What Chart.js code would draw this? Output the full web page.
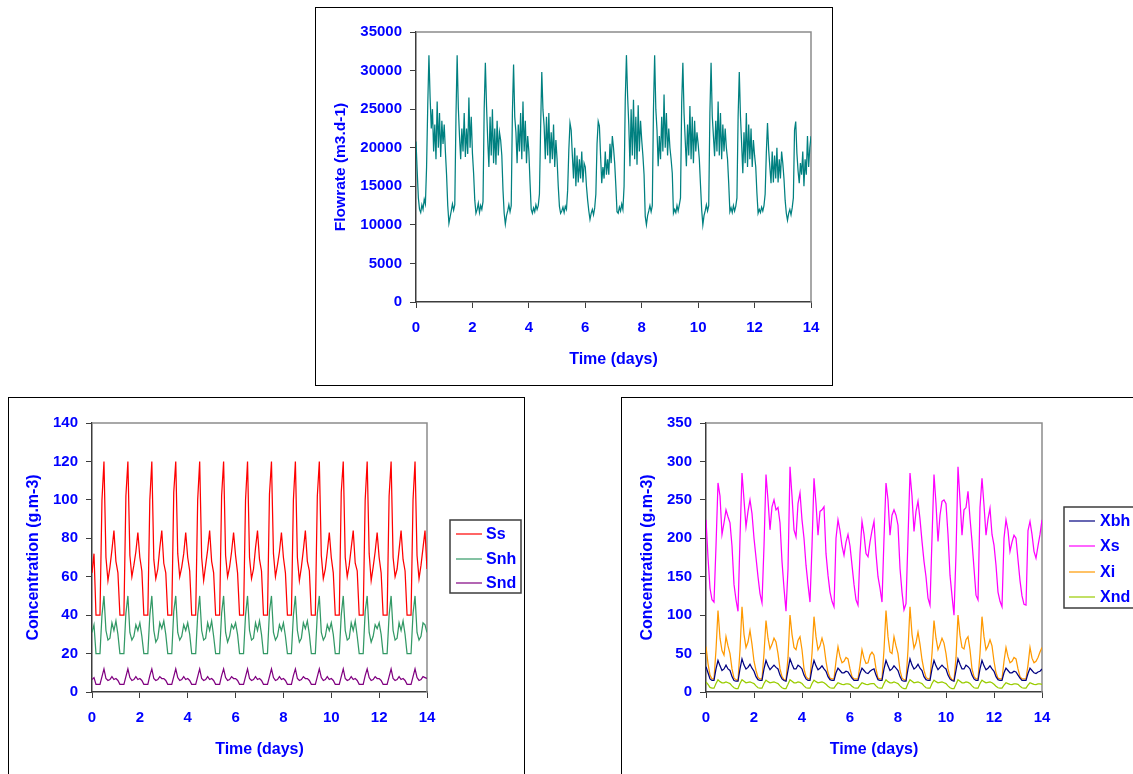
<!DOCTYPE html>
<html>
<head>
<meta charset="utf-8">
<title>Influent flowrate and concentrations</title>
<script src="https://cdn.jsdelivr.net/npm/chart.js@4.4.1/dist/chart.umd.min.js"></script>
<style>
  html, body { margin: 0; padding: 0; background: #fff; }
  body { position: relative; width: 1133px; height: 774px; overflow: hidden; }
  .frame { position: absolute; border: 1px solid #000; box-sizing: border-box; }
  canvas { position: absolute; }
</style>
</head>
<body>
<div class="frame" style="left:315px;top:7px;width:518px;height:379px"></div>
<div class="frame" style="left:8px;top:397px;width:517px;height:420px"></div>
<div class="frame" style="left:621px;top:397px;width:600px;height:420px"></div>

<canvas id="flow-chart" width="515" height="376" style="left:316px;top:8px"></canvas>
<canvas id="s-chart" width="514" height="376" style="left:9px;top:398px"></canvas>
<canvas id="x-chart" width="511" height="376" style="left:622px;top:398px"></canvas>

<script>
// =========================================================================
// DATA
// flowrate: one value per hour (24 per row = 1 day), last value = day 14
// concentrations: one value every 2 hours (12 per row = 1 day)
// =========================================================================

var FLOW_STEP_DAYS = 1 / 24;
var CONC_STEP_DAYS = 1 / 12;

var dayTicks = [0, 2, 4, 6, 8, 10, 12, 14];
var flowTicks = [0, 5000, 10000, 15000, 20000, 25000, 30000, 35000];
var sTicks = [0, 20, 40, 60, 80, 100, 120, 140];
var xTicks = [0, 50, 100, 150, 200, 250, 300, 350];

var sLabels = ['Ss', 'Snh', 'Snd'];
var xLabels = ['Xbh', 'Xs', 'Xi', 'Xnd'];

var flowrate = [
  20800, 17000, 13500, 12000, 11600, 12600, 12000, 13300, 12700, 17500, 25500, 32000, 26500, 22500, 25000, 19500, 23000, 18500, 26000, 20000, 24500, 18800, 23500, 20500,
  23000, 19500, 16500, 12500, 10200, 11000, 11800, 12700, 11900, 12600, 24000, 32000, 25200, 21500, 18500, 22500, 19500, 24500, 18800, 22500, 19200, 26500, 20000, 24000,
  19300, 16700, 13200, 11500, 12000, 12800, 11600, 12500, 12000, 13000, 25000, 31000, 25400, 21000, 17500, 24000, 19000, 25000, 18000, 22500, 17800, 23500, 19000, 22000,
  21000, 19000, 14500, 11500, 10100, 11200, 11800, 12600, 11700, 12500, 24500, 30800, 24000, 22000, 18000, 23000, 19500, 24500, 18500, 26000, 19500, 23500, 18000, 21500,
  19500, 15500, 12000, 11500, 12200, 11700, 12600, 12000, 12500, 14000, 22500, 29800, 24900, 22800, 18500, 24000, 19000, 24500, 18000, 22000, 18500, 23000, 17500, 21000,
  18500, 15000, 12400, 11500, 11800, 12300, 11600, 12400, 12000, 14500, 19700, 23200, 22300, 19000, 16000, 20000, 15000, 19000, 15500, 18500, 16000, 19500, 15500, 18000,
  17500, 15000, 13200, 11800, 10700, 11500, 12000, 11300, 12200, 14000, 20500, 23400, 22800, 19000, 15400, 17500, 16000, 19500, 16500, 18500, 16500, 20500, 18000, 21500,
  20000, 18000, 15000, 11700, 11500, 12300, 11800, 12700, 12000, 15000, 26200, 32000, 26700, 23000, 17600, 25000, 19000, 26200, 18500, 24000, 17800, 25500, 19500, 23500,
  21000, 19000, 16500, 11100, 10000, 11200, 11800, 12500, 11700, 12500, 25000, 32000, 25000, 22300, 17600, 21500, 18500, 24000, 19500, 26900, 20000, 24500, 19000, 22500,
  20000, 18500, 16700, 11500, 12000, 11600, 12500, 11800, 12600, 13500, 25800, 31000, 24500, 21000, 17600, 23000, 19000, 25400, 18500, 24000, 18000, 23500, 19500, 22000,
  20500, 18500, 15200, 12000, 10000, 11200, 11800, 12600, 11800, 12500, 24500, 31000, 24100, 21500, 18900, 23500, 19500, 26000, 19000, 24500, 18500, 23000, 19500, 22500,
  20000, 18500, 15400, 11700, 12200, 11600, 12500, 11800, 12400, 13500, 24000, 29800, 24100, 20500, 16700, 22000, 18000, 24500, 17500, 23000, 18500, 22500, 17500, 21000,
  19000, 17500, 14100, 11500, 12000, 11600, 12300, 11800, 12500, 14000, 19300, 23200, 19700, 17500, 15400, 19500, 15500, 19000, 16000, 20000, 15500, 18500, 16000, 19500,
  18000, 16000, 13200, 11500, 10600, 11500, 12000, 11300, 12200, 13500, 22300, 23400, 19300, 17000, 15400, 18000, 16500, 19500, 15000, 18500, 16500, 21500, 17500, 20000,
  21500
];

var ss = [
  62, 72, 40, 40, 40, 100, 120, 70, 58, 65, 74, 84,
  68, 62, 40, 40, 40, 102, 120, 71, 60, 66, 73, 83,
  70, 63, 40, 40, 40, 100, 120, 69, 59, 64, 75, 84,
  67, 62, 40, 40, 40, 104, 120, 72, 60, 65, 72, 83,
  70, 63, 40, 40, 40, 100, 120, 70, 58, 66, 74, 84,
  68, 62, 40, 40, 40, 102, 120, 71, 60, 65, 73, 83,
  71, 62, 40, 40, 40, 100, 120, 70, 59, 64, 75, 84,
  69, 63, 40, 40, 40, 103, 120, 72, 60, 66, 73, 83,
  70, 62, 40, 40, 40, 100, 120, 70, 58, 65, 74, 84,
  68, 63, 40, 40, 40, 102, 120, 71, 59, 64, 73, 83,
  70, 62, 40, 40, 40, 104, 120, 70, 60, 66, 75, 84,
  67, 63, 40, 40, 40, 100, 120, 72, 58, 65, 73, 83,
  70, 62, 40, 40, 40, 102, 120, 70, 60, 64, 74, 84,
  69, 63, 40, 40, 40, 100, 120, 71, 59, 66, 75, 84,
  64
];

var snh = [
  31, 35, 20, 20, 20, 40, 50, 32, 27, 28, 36, 32,
  37, 30, 20, 20, 20, 41, 50, 31, 27, 29, 35, 32,
  36, 29, 20, 20, 20, 40, 50, 32, 26, 28, 36, 33,
  37, 30, 20, 20, 20, 42, 50, 31, 27, 29, 35, 32,
  36, 30, 20, 20, 20, 40, 50, 32, 27, 28, 36, 32,
  37, 29, 20, 20, 20, 41, 50, 31, 26, 29, 35, 33,
  36, 30, 20, 20, 20, 40, 50, 32, 27, 28, 36, 32,
  37, 30, 20, 20, 20, 42, 50, 31, 27, 29, 35, 32,
  36, 29, 20, 20, 20, 40, 50, 32, 26, 28, 36, 33,
  37, 30, 20, 20, 20, 41, 50, 31, 27, 29, 35, 32,
  36, 30, 20, 20, 20, 40, 50, 32, 27, 28, 36, 32,
  37, 29, 20, 20, 20, 42, 50, 31, 26, 29, 35, 33,
  36, 30, 20, 20, 20, 40, 50, 32, 27, 28, 36, 32,
  37, 30, 20, 20, 20, 41, 50, 31, 27, 29, 36, 35,
  31
];

var snd = [
  6.5, 7.5, 4, 4, 4, 8, 12, 7, 6, 6.5, 8, 6.5,
  7, 6, 4, 4, 4, 8, 12, 7.5, 6, 6.5, 8, 6.5,
  7, 6, 4, 4, 4, 8.5, 12, 7, 6, 6.5, 8, 7,
  7, 6, 4, 4, 4, 8, 12, 7.5, 6, 6.5, 8, 6.5,
  7, 6, 4, 4, 4, 8, 12, 7, 6, 6.5, 8, 6.5,
  7, 6, 4, 4, 4, 8.5, 12, 7.5, 6, 6.5, 8, 7,
  7, 6, 4, 4, 4, 8, 12, 7, 6, 6.5, 8, 6.5,
  7, 6, 4, 4, 4, 8, 12, 7.5, 6, 6.5, 8, 6.5,
  7, 6, 4, 4, 4, 8.5, 12, 7, 6, 6.5, 8, 7,
  7, 6, 4, 4, 4, 8, 12, 7.5, 6, 6.5, 8, 6.5,
  7, 6, 4, 4, 4, 8, 12, 7, 6, 6.5, 8, 6.5,
  7, 6, 4, 4, 4, 8.5, 12, 7.5, 6, 6.5, 8, 7,
  7, 6, 4, 4, 4, 8, 12, 7, 6, 6.5, 8, 6.5,
  7, 6, 4, 4, 4, 8, 12, 7.5, 6, 6.5, 8, 7.5,
  7
];

var xbh = [
  33, 25, 17, 15, 15, 30, 41, 34, 28, 30, 35, 30,
  28, 20, 15, 14, 14, 30, 43, 35, 30, 32, 36, 31,
  27, 20, 16, 15, 15, 30, 41, 34, 29, 32, 35, 32,
  30, 22, 17, 15, 14, 28, 43, 36, 30, 30, 35, 33,
  30, 22, 17, 15, 15, 30, 41, 34, 29, 31, 34, 30,
  27, 20, 16, 15, 15, 25, 31, 28, 25, 25, 27, 26,
  22, 18, 15, 15, 15, 24, 31, 28, 25, 24, 27, 29,
  30, 22, 16, 15, 15, 30, 41, 34, 28, 30, 34, 31,
  28, 20, 15, 14, 14, 30, 43, 35, 30, 32, 36, 31,
  28, 20, 16, 15, 15, 30, 41, 34, 29, 32, 35, 32,
  30, 22, 17, 15, 14, 28, 43, 36, 30, 30, 35, 33,
  30, 22, 17, 15, 15, 30, 41, 34, 29, 31, 34, 30,
  27, 20, 16, 15, 15, 25, 31, 28, 25, 25, 27, 26,
  22, 18, 15, 15, 15, 24, 31, 28, 25, 24, 26, 27,
  30
];

var xs = [
  224, 175, 135, 120, 117, 190, 272, 255, 205, 220, 237, 228,
  220, 190, 140, 120, 105, 200, 285, 250, 215, 235, 250, 232,
  200, 175, 150, 128, 116, 190, 283, 250, 211, 241, 250, 237,
  240, 220, 170, 135, 105, 160, 293, 255, 211, 202, 245, 259,
  224, 200, 165, 140, 117, 190, 278, 245, 204, 235, 237, 241,
  180, 152, 130, 118, 111, 200, 224, 210, 190, 178, 195, 205,
  190, 165, 140, 120, 113, 180, 222, 205, 180, 176, 195, 210,
  222, 180, 150, 135, 117, 200, 272, 250, 204, 230, 237, 230,
  217, 161, 130, 107, 115, 200, 285, 255, 209, 235, 248, 225,
  196, 170, 150, 122, 113, 200, 283, 245, 196, 230, 248, 250,
  245, 205, 152, 125, 100, 180, 293, 250, 204, 237, 240, 261,
  226, 196, 161, 126, 120, 240, 278, 243, 204, 225, 239, 205,
  191, 165, 130, 118, 111, 200, 224, 210, 183, 195, 204, 200,
  172, 145, 125, 114, 113, 210, 222, 205, 183, 174, 190, 205,
  224
];

var xi = [
  59, 37, 22, 17, 17, 55, 106, 70, 54, 48, 72, 60,
  50, 30, 18, 16, 15, 55, 111, 75, 58, 65, 80, 62,
  40, 28, 19, 17, 17, 50, 93, 70, 56, 62, 70, 65,
  50, 30, 20, 16, 15, 45, 100, 75, 58, 55, 67, 72,
  55, 30, 20, 17, 17, 50, 98, 72, 55, 60, 70, 60,
  40, 25, 18, 17, 17, 40, 59, 46, 38, 40, 45, 43,
  30, 20, 17, 17, 17, 35, 55, 44, 37, 38, 48, 52,
  48, 30, 18, 17, 17, 55, 106, 72, 52, 50, 72, 60,
  50, 28, 18, 16, 15, 55, 111, 75, 57, 64, 78, 62,
  42, 28, 19, 17, 17, 50, 93, 70, 55, 62, 70, 64,
  50, 30, 20, 16, 15, 45, 100, 74, 58, 56, 68, 72,
  55, 30, 20, 17, 17, 50, 98, 72, 55, 60, 68, 60,
  40, 25, 18, 17, 17, 40, 58, 46, 38, 40, 45, 43,
  30, 20, 17, 17, 17, 35, 58, 44, 38, 40, 45, 52,
  58
];

var xnd = [
  13, 10, 6, 5, 5, 11, 16, 13.5, 12, 12, 13, 12,
  11, 8, 5.5, 4.5, 4.5, 11, 16, 14, 12, 12.5, 13, 12,
  11, 8, 5.5, 5, 5, 11, 15.5, 13.5, 12, 12.5, 13, 12,
  11, 8, 5.5, 4.5, 4.5, 10, 16, 14, 12, 12, 13, 12.5,
  11, 8, 5.5, 5, 5, 11, 15.5, 13.5, 12, 12.5, 13, 12,
  10, 7.5, 5.5, 5, 5, 9, 12, 11, 10, 9.5, 10.5, 10.5,
  10, 7.5, 5.5, 5, 5, 9, 12, 11, 10, 9.5, 10.5, 11,
  11, 8, 5.5, 5, 5, 11, 16, 13.5, 12, 12, 13, 12,
  11, 8, 5.5, 4.5, 4.5, 11, 16, 14, 12, 12.5, 13, 12,
  11, 8, 5.5, 5, 5, 11, 15.5, 13.5, 12, 12.5, 13, 12,
  11, 8, 5.5, 4.5, 4.5, 10, 16, 14, 12, 12, 13, 12.5,
  11, 8, 5.5, 5, 5, 11, 15.5, 13.5, 12, 12.5, 13, 12,
  10, 7.5, 5.5, 5, 5, 9, 12, 11, 10, 9.5, 10.5, 10.5,
  10, 7.5, 5.5, 5, 5, 9, 12, 11, 10, 9.5, 10.5, 10.5,
  10
];

(function () {
  'use strict';

  // --- Palette (spreadsheet-style) ---
  var BLUE = '#0000ff';
  var AXIS = '#3c3c3c';
  var FRAME = '#8c8c8c';
  var FONT = '"Liberation Sans", Arial, sans-serif';

  function points(values, step) {
    return values.map(function (v, i) { return { x: i * step, y: v }; });
  }

  function line(label, values, step, color) {
    return {
      label: label,
      data: points(values, step),
      borderColor: color,
      backgroundColor: color,
      borderWidth: 1.25,
      pointRadius: 0,
      tension: 0,
      fill: false
    };
  }

  // Plot area: grey top/right edges
  var plotBox = {
    id: 'plotBox',
    beforeDatasetsDraw: function (chart) {
      var a = chart.chartArea;
      var ctx = chart.ctx;
      ctx.save();
      ctx.strokeStyle = FRAME;
      ctx.lineWidth = 1.5;
      ctx.beginPath();
      ctx.moveTo(a.left, a.top);
      ctx.lineTo(a.right, a.top);
      ctx.lineTo(a.right, a.bottom);
      ctx.stroke();
      ctx.restore();
    }
  };

  // Boxed legend on the right: line sample + bold label
  var boxLegend = {
    id: 'boxLegend',
    afterDraw: function (chart, args, opts) {
      if (!opts || !opts.rows) return;
      var ctx = chart.ctx;
      ctx.save();
      ctx.strokeStyle = AXIS;
      ctx.lineWidth = 1.5;
      ctx.strokeRect(opts.x, opts.y, opts.w, opts.h);
      ctx.font = 'bold 16px ' + FONT;
      ctx.textBaseline = 'middle';
      ctx.textAlign = 'left';
      chart.data.datasets.forEach(function (ds, i) {
        var y = opts.rows[i];
        ctx.strokeStyle = ds.borderColor;
        ctx.lineWidth = 1.2;
        ctx.beginPath();
        ctx.moveTo(opts.lineX, y);
        ctx.lineTo(opts.lineX + 26, y);
        ctx.stroke();
        ctx.fillStyle = BLUE;
        ctx.fillText(ds.label, opts.textX, y + 1);
      });
      ctx.restore();
    }
  };

  function fixedTicks(list) {
    return function (scale) {
      scale.ticks = list.map(function (v) { return { value: v }; });
    };
  }

  function plain(value) { return String(value); }

  function makeOptions(cfg) {
    return {
      responsive: false,
      animation: false,
      events: [],
      layout: { padding: { top: cfg.top, right: cfg.right, left: 0, bottom: 0 } },
      plugins: {
        legend: { display: false },
        tooltip: { enabled: false },
        boxLegend: cfg.legend || false
      },
      scales: {
        x: {
          type: 'linear',
          min: 0,
          max: 14,
          afterBuildTicks: fixedTicks(dayTicks),
          afterFit: function (s) { s.height = 82; },
          ticks: {
            color: BLUE,
            padding: 11,
            maxRotation: 0,
            callback: plain,
            font: { family: FONT, size: 15, weight: 'bold' }
          },
          grid: { drawOnChartArea: false, drawTicks: true, tickLength: 6, color: AXIS },
          border: { color: AXIS, width: 1.5 },
          title: {
            display: true,
            text: 'Time (days)',
            color: BLUE,
            padding: { top: 0, bottom: 15 },
            font: { family: FONT, size: 16, weight: 'bold' }
          }
        },
        y: {
          min: 0,
          max: cfg.yMax,
          afterBuildTicks: fixedTicks(cfg.yTicks),
          afterFit: function (s) { s.width = cfg.left; },
          ticks: {
            color: BLUE,
            padding: 8,
            callback: plain,
            font: { family: FONT, size: 15, weight: 'bold' }
          },
          grid: { drawOnChartArea: false, drawTicks: true, tickLength: 6, color: AXIS },
          border: { color: AXIS, width: 1.5 },
          title: {
            display: true,
            text: cfg.yTitle,
            color: BLUE,
            padding: { top: cfg.titlePad, bottom: 0 },
            font: { family: FONT, size: cfg.titleSize, weight: 'bold' }
          }
        }
      }
    };
  }

  // =========================================================================
  // FLOWRATE
  // =========================================================================
  new Chart(document.getElementById('flow-chart'), {
    type: 'line',
    data: { datasets: [line('Flowrate', flowrate, FLOW_STEP_DAYS, '#008080')] },
    options: makeOptions({
      top: 24, right: 20, left: 100, titlePad: 15, titleSize: 15.5,
      yMax: 35000, yTicks: flowTicks, yTitle: 'Flowrate (m3.d-1)'
    }),
    plugins: [plotBox]
  });

  // =========================================================================
  // SOLUBLE COMPONENTS
  // =========================================================================
  new Chart(document.getElementById('s-chart'), {
    type: 'line',
    data: {
      datasets: [
        line(sLabels[0], ss, CONC_STEP_DAYS, '#ff0000'),
        line(sLabels[1], snh, CONC_STEP_DAYS, '#339966'),
        line(sLabels[2], snd, CONC_STEP_DAYS, '#800080')
      ]
    },
    options: makeOptions({
      top: 25, right: 96, left: 83, titlePad: 15, titleSize: 16,
      yMax: 140, yTicks: sTicks, yTitle: 'Concentration (g.m-3)',
      legend: { x: 441, y: 122, w: 71, h: 73, lineX: 447, textX: 477, rows: [136, 161, 185] }
    }),
    plugins: [plotBox, boxLegend]
  });

  // =========================================================================
  // PARTICULATE COMPONENTS
  // =========================================================================
  new Chart(document.getElementById('x-chart'), {
    type: 'line',
    data: {
      datasets: [
        line(xLabels[0], xbh, CONC_STEP_DAYS, '#000080'),
        line(xLabels[1], xs, CONC_STEP_DAYS, '#ff00ff'),
        line(xLabels[2], xi, CONC_STEP_DAYS, '#ff9900'),
        line(xLabels[3], xnd, CONC_STEP_DAYS, '#99cc00')
      ]
    },
    options: makeOptions({
      top: 25, right: 91, left: 84, titlePad: 16, titleSize: 16,
      yMax: 350, yTicks: xTicks, yTitle: 'Concentration (g.m-3)',
      legend: { x: 442, y: 109, w: 90, h: 101, lineX: 447, textX: 478, rows: [123, 148, 174, 199] }
    }),
    plugins: [plotBox, boxLegend]
  });
})();
</script>
</body>
</html>
